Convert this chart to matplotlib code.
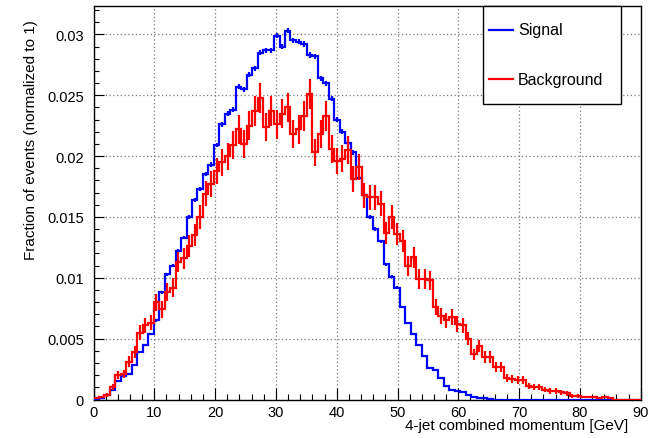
import numpy as np
import matplotlib
matplotlib.use('Agg')
import matplotlib.pyplot as plt
from matplotlib.patches import Rectangle
from matplotlib.lines import Line2D
from matplotlib.ticker import MultipleLocator, FixedLocator, FixedFormatter

plt.rcParams['font.family'] = ['Liberation Sans', 'DejaVu Sans']

# ---- data ----
x_min, x_max, n_bins = 0.0, 90.0, 100
series_labels = ['Signal', 'Background']
series_colors = ['#0000ff', '#ff0000']

signal = [
    0.0, 0.00015, 0.0004, 0.0008, 0.0015, 0.0019, 0.0021, 0.0028, 0.0039, 0.0045,
    0.0054, 0.0065, 0.0088, 0.0103, 0.0110, 0.0122, 0.0133, 0.0150, 0.0164, 0.0173,
    0.0185, 0.0193, 0.0209, 0.0226, 0.0235, 0.0238, 0.0257, 0.0255, 0.0267, 0.0272,
    0.0285, 0.0287, 0.0287, 0.0299, 0.0290, 0.0303, 0.0295, 0.0294, 0.0292, 0.0283,
    0.0282, 0.0264, 0.0260, 0.0247, 0.0230, 0.0220, 0.0211, 0.0203, 0.0182, 0.0168,
    0.0150, 0.0140, 0.0130, 0.0111, 0.0101, 0.0092, 0.0076, 0.0063, 0.0054, 0.0045,
    0.0036, 0.0026, 0.0024, 0.0018, 0.0011, 0.0008, 0.0007, 0.0006, 0.0004, 0.0002,
    0.0001, 0.0001, 0.00005, 0.0, 0.0, 0.0, 0.0, 0.0, 0.0, 0.0,
    0.0, 0.0, 0.0, 0.0, 0.0, 0.0, 0.0, 0.0, 0.0, 0.0,
    0.0, 0.0, 0.0, 0.0, 0.0, 0.0, 0.0, 0.0, 0.0, 0.0,
]

background = [
    0.0001, 0.0002, 0.0004, 0.0010, 0.0020, 0.0021, 0.0031, 0.0039, 0.0055, 0.0061,
    0.0063, 0.0080, 0.0074, 0.0088, 0.0092, 0.0113, 0.0116, 0.0126, 0.0135, 0.0150,
    0.0169, 0.0177, 0.0188, 0.0195, 0.0200, 0.0209, 0.0222, 0.0210, 0.0225, 0.0237,
    0.0248, 0.0224, 0.0237, 0.0226, 0.0235, 0.0240, 0.0218, 0.0222, 0.0233, 0.0251,
    0.0203, 0.0218, 0.0233, 0.0206, 0.0196, 0.0198, 0.0205, 0.0181, 0.0191, 0.0168,
    0.0166, 0.0166, 0.0161, 0.0137, 0.0150, 0.0136, 0.0130, 0.0110, 0.0117, 0.0099,
    0.0099, 0.0098, 0.0076, 0.0069, 0.0065, 0.0068, 0.0062, 0.0061, 0.0050, 0.0037,
    0.0044, 0.0035, 0.0035, 0.0027, 0.0027, 0.0018, 0.0017, 0.0016, 0.0016, 0.0011,
    0.0010, 0.0010, 0.0008, 0.0007, 0.0007, 0.0006, 0.0005, 0.0003, 0.0003, 0.0002,
    0.0002, 0.0002, 0.0001, 0.0002, 0.0001, 0.0, 0.0, 0.0, 0.0, 0.0,
]

# effective number of events (sets the Poisson error bars)
signal_events = 600000
background_events = 16000

y_ticks = [0.0, 0.005, 0.01, 0.015, 0.02, 0.025, 0.03]
y_tick_labels = ['0', '0.005', '0.01', '0.015', '0.02', '0.025', '0.03']
x_ticks = [0, 10, 20, 30, 40, 50, 60, 70, 80, 90]
x_tick_labels = ['0', '10', '20', '30', '40', '50', '60', '70', '80', '90']

x_label = '4-jet combined momentum [GeV]'
y_label = 'Fraction of events (normalized to 1)'

# ---- figure ----
W, H = 663, 439
fig = plt.figure(figsize=(W / 100, H / 100), dpi=100)
ax_l, ax_r, ax_t, ax_b = 93.5, 640.7, 7.3, 400.5
ax = fig.add_axes([ax_l / W, 1 - ax_b / H, (ax_r - ax_l) / W, (ax_b - ax_t) / H])

edges = np.linspace(x_min, x_max, n_bins + 1)
centers = 0.5 * (edges[:-1] + edges[1:])

for vals, nev, col in [(signal, signal_events, series_colors[0]),
                       (background, background_events, series_colors[1])]:
    v = np.asarray(vals)
    err = np.sqrt(v / nev)
    ax.stairs(v, edges, color=col, lw=1.6, baseline=None, zorder=3)
    m = v > 0
    ax.errorbar(centers[m], v[m], yerr=err[m], fmt='none', ecolor=col,
                elinewidth=1.6, capsize=0, zorder=3)

ax.set_xlim(x_min, x_max)
ax.set_ylim(0, 0.03231)

ax.xaxis.set_major_locator(FixedLocator(x_ticks))
ax.xaxis.set_major_formatter(FixedFormatter(x_tick_labels))
ax.xaxis.set_minor_locator(MultipleLocator(2))
ax.yaxis.set_major_locator(FixedLocator(y_ticks))
ax.yaxis.set_major_formatter(FixedFormatter(y_tick_labels))
ax.yaxis.set_minor_locator(MultipleLocator(0.001))

ax.tick_params(axis='both', which='both', direction='in', top=False, right=False,
               labelsize=10.5, colors='black')
ax.tick_params(axis='x', which='major', length=8.6, width=0.8, pad=4)
ax.tick_params(axis='x', which='minor', length=4.3, width=0.8)
ax.tick_params(axis='y', which='major', length=7.2, width=0.8, pad=7)
ax.tick_params(axis='y', which='minor', length=3.6, width=0.8)

ax.grid(True, which='major', color='#777777', linestyle=(0, (1, 2)), linewidth=0.9)
ax.set_axisbelow(True)
for s in ax.spines.values():
    s.set_linewidth(1.0)
    s.set_color('black')

ax.set_xlabel(x_label, fontsize=11, loc='right')
ax.xaxis.set_label_coords((628 - ax_l) / (ax_r - ax_l), (ax_b - 419) / (ax_b - ax_t))
ax.set_ylabel(y_label, fontsize=11, loc='top')
ax.yaxis.set_label_coords((38 - ax_l) / (ax_r - ax_l), (ax_b - 20) / (ax_b - ax_t))

# ---- legend (ROOT-style box) ----
lx0, lx1, ly0, ly1 = 483, 621, 7.3, 105.3
fig.add_artist(Rectangle((lx0 / W, 1 - ly1 / H), (lx1 - lx0) / W, (ly1 - ly0) / H,
                         transform=fig.transFigure, facecolor='white',
                         edgecolor='black', lw=1.0, zorder=5))
for lab, col, yy in [(series_labels[0], series_colors[0], 31),
                     (series_labels[1], series_colors[1], 80)]:
    fig.add_artist(Line2D([489 / W, 513 / W], [1 - yy / H, 1 - yy / H],
                          transform=fig.transFigure, color=col, lw=1.6, zorder=6))
    fig.text(518 / W, 1 - yy / H, lab, fontsize=11.5, va='center', ha='left', zorder=6)

fig.savefig('out.png', dpi=100)
